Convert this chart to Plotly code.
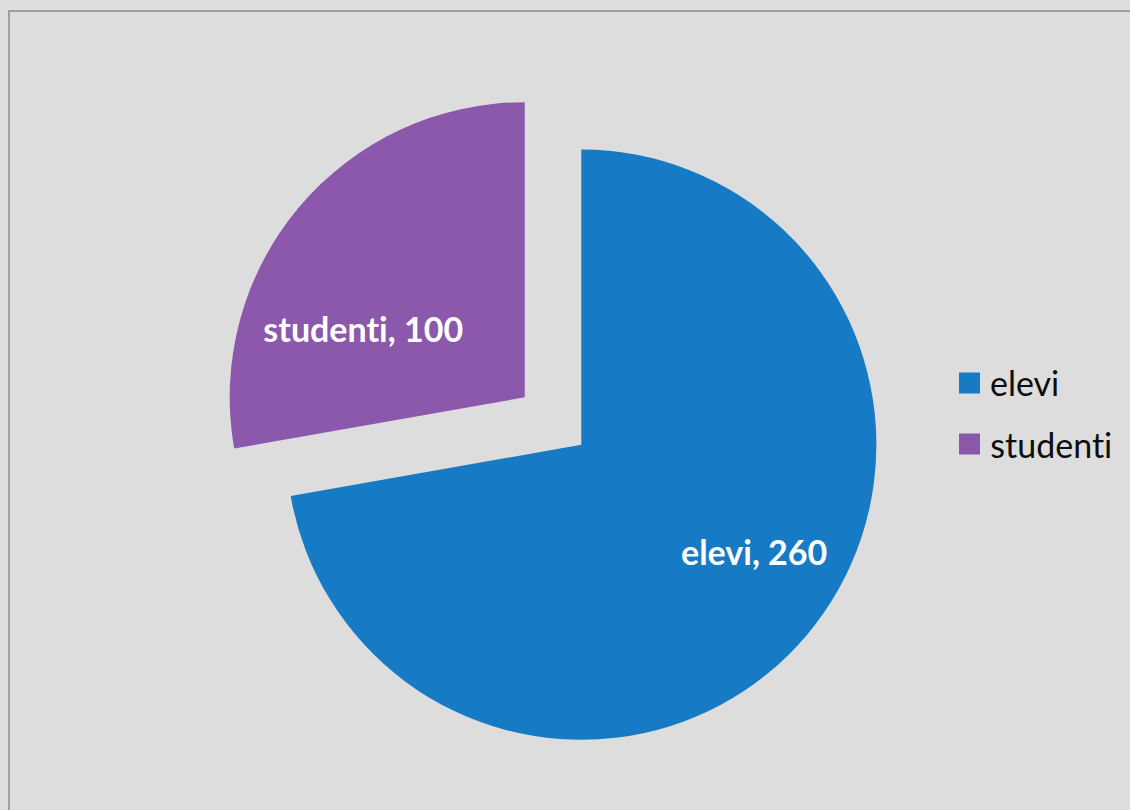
import plotly.graph_objects as go

categories = ["elevi", "studenti"]
values = [260, 100]
colors = ["#177AC4", "#8B58AC"]
pulls = [0.125, 0.125]

W, H = 1130, 810

fig = go.Figure(go.Pie(
    labels=categories,
    values=values,
    marker=dict(colors=colors, line=dict(width=0)),
    pull=pulls,
    sort=False,
    direction="clockwise",
    rotation=0,
    textinfo="none",
    showlegend=False,
    hoverinfo="label+value",
    domain=dict(x=[0.1956, 0.7832], y=[0.0704, 0.8901]),
))

# in-slice label centres (pixels)
label_pos = [(754, 551), (363, 328)]

shapes = [
    dict(type="rect", xref="paper", yref="paper", x0=9 / W, x1=1.02, y0=-0.02, y1=1 - 11 / H,
         line=dict(color="#8a8a8a", width=1.5), fillcolor="rgba(0,0,0,0)", layer="below"),
]
annotations = []
for cat, val, (px, py) in zip(categories, values, label_pos):
    annotations.append(dict(text=f"<b>{cat}, {val}</b>", xref="paper", yref="paper",
                            x=px / W, y=1 - py / H, xanchor="center", yanchor="middle",
                            showarrow=False,
                            font=dict(family="Lato", size=34, color="white")))

leg_x0 = 959
leg_y = [383, 444]
for cat, col, yc in zip(categories, colors, leg_y):
    shapes.append(dict(type="rect", xref="paper", yref="paper",
                       x0=leg_x0 / W, x1=(leg_x0 + 21) / W,
                       y0=1 - (yc + 10.5) / H, y1=1 - (yc - 10.5) / H,
                       fillcolor=col, line=dict(width=0)))
    annotations.append(dict(text=cat, xref="paper", yref="paper",
                            x=(leg_x0 + 29) / W, y=1 - yc / H,
                            xanchor="left", yanchor="middle", showarrow=False,
                            font=dict(family="Lato", size=34, color="#0d0d0d")))

fig.update_layout(
    width=W, height=H,
    margin=dict(l=0, r=0, t=0, b=0),
    paper_bgcolor="#dddddd",
    plot_bgcolor="#dddddd",
    shapes=shapes,
    annotations=annotations,
)

post = (
    "document.body.style.margin='0';"
    "var s=document.createElement('style');"
    "s.textContent='text{font-variant-ligatures:none;font-feature-settings:\"liga\" 0;}';"
    "document.head.appendChild(s);"
)
fig.write_html("out.html", config={"displayModeBar": False}, post_script=post)
